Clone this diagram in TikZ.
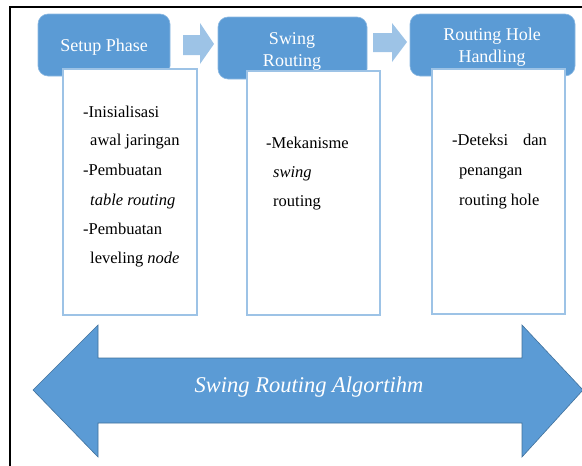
\documentclass[tikz,border=0pt]{standalone}
\usepackage{fontspec}
\setmainfont{Liberation Serif}
\definecolor{hdr}{HTML}{5B9BD5}
\definecolor{lite}{HTML}{9DC3E6}
\definecolor{boxline}{HTML}{9DC3E6}
\definecolor{bigline}{HTML}{41719C}
\tikzset{
  hdrbox/.style={fill=hdr, draw=hdr!70!white, line width=0.6pt, rounded corners=10pt},
  bodybox/.style={fill=white, draw=boxline, line width=1.2pt},
  hdrtext/.style={text=white, font=\fontsize{18}{21}\selectfont, align=center, inner sep=0pt},
  bodytext/.style={font=\fontsize{16.5}{19}\selectfont, anchor=mid west, inner sep=0pt},
  chev/.style={fill=lite, draw=none},
}
\begin{document}
\begin{tikzpicture}[x=1pt,y=-1pt]
\useasboundingbox (0,0) rectangle (582,466);
% frame
\draw[line width=2.5pt] (10,466) -- (10,7) -- (582,7);
% headers
\path[hdrbox] (38,14) rectangle (170,76);
\node[hdrtext] (h1) at (104,47) {Setup Phase};
\path[hdrbox] (218,17) rectangle (367,79);
\node[hdrtext] (h2a) at (292,40) {Swing};
\node[hdrtext] (h2b) at (292,62) {Routing};
\path[hdrbox] (410,14) rectangle (575,76);
\node[hdrtext] (h3a) at (492,36) {Routing Hole};
\node[hdrtext] (h3b) at (492,58) {Handling};
% chevrons
\fill[chev] (183,35) -- (200,35) -- (200,23) -- (214,44) -- (200,64) -- (200,55) -- (183,55) -- cycle;
\fill[chev] (373,33) -- (392,33) -- (392,23) -- (407,42) -- (392,62) -- (392,52) -- (373,52) -- cycle;
% body boxes
\draw[bodybox] (63,69) rectangle (197,315);
\draw[bodybox] (247,71) rectangle (380,315);
\draw[bodybox] (432,69) rectangle (565,314);
% body texts
\node[bodytext] (a1) at (83,115) {-Inisialisasi};
\node[bodytext] (a2) at (90,143) {awal jaringan};
\node[bodytext] (a3) at (83,173) {-Pembuatan};
\node[bodytext] (a4) at (90,203) {\itshape table routing};
\node[bodytext] (a5) at (83,232) {-Pembuatan};
\node[bodytext] (a6) at (90,261) {leveling \itshape node};
\node[bodytext] (b1) at (266,146) {-Mekanisme};
\node[bodytext] (b2) at (273,175) {\itshape swing};
\node[bodytext] (b3) at (273,204) {routing};
\node[bodytext] (c1) at (452,143) {-Deteksi\hspace{15pt}dan};
\node[bodytext] (c2) at (459,173) {penangan};
\node[bodytext] (c3) at (459,203) {routing hole};
% big double arrow
\path[fill=hdr, draw=bigline, line width=0.6pt]
  (33,390) -- (98,325) -- (98,358) -- (522,358) -- (522,325) -- (583,390)
  -- (522,457) -- (522,423) -- (98,423) -- (98,457) -- cycle;
\node[text=white, font=\fontsize{22.5}{26}\selectfont\itshape, inner sep=0pt] (big) at (309,387) {Swing Routing Algortihm};
\end{tikzpicture}
\end{document}
